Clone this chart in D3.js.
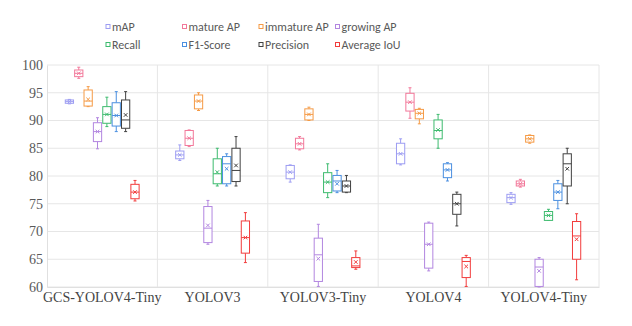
<!DOCTYPE html>
<html>
<head>
<meta charset="utf-8">
<style>
  body { margin: 0; background: #fff; }
  svg { display: block; }
</style>
</head>
<body>
<script src="https://cdn.jsdelivr.net/npm/d3@7"></script>
<script>
// categories and legend
var categories = ['GCS-YOLOV4-Tiny', 'YOLOV3', 'YOLOV3-Tiny', 'YOLOV4', 'YOLOV4-Tiny'];
var seriesNames = ['mAP', 'mature AP', 'immature AP', 'growing AP', 'Recall', 'F1-Score', 'Precision', 'Average IoU'];
var seriesColors = ['#9d9df2', '#f2789a', '#f59a45', '#b286e0', '#3dbb6e', '#4a8fe0', '#404040', '#f23c3c'];
var yTicks = [60, 65, 70, 75, 80, 85, 90, 95, 100];

// each entry: [min, q1, median, q3, max, mean] per category
var mAP        = [[93.0, 93.1, 93.4, 93.7, 93.8, 93.4], [82.8, 83.1, 83.8, 84.5, 85.6, 83.8], [78.9, 79.5, 80.7, 81.9, 82.0, 80.7], [82.0, 82.2, 84.0, 85.9, 86.7, 84.0], [74.9, 75.2, 76.1, 76.7, 77.0, 76.1]];
var matureAP   = [[97.6, 97.9, 98.5, 99.1, 99.6, 98.5], [85.3, 85.5, 86.8, 88.2, 88.3, 86.8], [84.7, 84.9, 85.8, 86.8, 87.1, 85.8], [90.4, 91.7, 93.3, 94.9, 95.9, 93.3], [78.0, 78.2, 78.6, 79.1, 79.4, 78.6]];
var immatureAP = [[92.5, 92.6, 93.5, 95.5, 96.1, 93.8], [91.8, 92.1, 93.5, 94.6, 95.0, 93.5], [90.0, 90.1, 91.1, 92.1, 92.4, 91.1], [89.4, 90.3, 91.3, 92.0, 92.2, 91.3], [85.9, 86.1, 86.7, 87.3, 87.4, 86.7]];
var growingAP  = [[84.9, 86.2, 88.0, 89.6, 90.5, 88.0], [67.7, 68.0, 70.6, 74.5, 75.6, 71.1], [60.1, 61.0, 65.8, 68.8, 71.3, 65.1], [62.9, 63.4, 67.7, 71.5, 71.7, 67.7], [60.0, 60.1, 63.6, 65.0, 65.3, 62.9]];
var recall     = [[88.9, 89.5, 91.1, 92.5, 94.2, 91.1], [78.2, 78.6, 80.4, 83.1, 85.0, 80.7], [76.1, 77.0, 78.9, 80.6, 82.2, 78.9], [85.0, 86.7, 88.2, 90.1, 91.1, 88.3], [72.0, 72.0, 72.9, 73.6, 74.0, 72.9]];
var f1Score    = [[88.0, 89.0, 90.9, 93.2, 95.2, 90.9], [78.2, 78.6, 82.2, 83.5, 84.0, 81.3], [77.0, 77.3, 79.1, 80.1, 81.0, 78.6], [79.1, 79.7, 81.1, 82.2, 82.4, 81.1], [74.1, 75.6, 77.1, 78.6, 79.2, 77.1]];
var precision  = [[88.0, 88.6, 90.1, 93.7, 95.2, 91.0], [78.2, 79.0, 81.0, 85.0, 87.1, 81.9], [77.0, 77.1, 78.2, 79.1, 80.1, 78.2], [71.0, 73.1, 75.0, 76.7, 77.1, 75.0], [75.0, 78.2, 82.2, 84.0, 85.0, 81.3]];
var avgIoU     = [[75.5, 75.9, 77.1, 78.5, 79.2, 77.1], [64.4, 66.1, 68.9, 71.9, 73.4, 68.9], [63.2, 63.5, 63.8, 65.3, 66.5, 64.5], [60.1, 61.7, 64.6, 65.3, 65.7, 63.7], [61.3, 65.0, 69.2, 71.8, 73.2, 68.6]];

var seriesData = [mAP, matureAP, immatureAP, growingAP, recall, f1Score, precision, avgIoU];

var width = 632, height = 326;
var margin = {top: 65, right: 33, bottom: 39, left: 47};

var svg = d3.select('body').append('svg')
  .attr('width', width)
  .attr('height', height);

var x = d3.scaleBand()
  .domain(categories)
  .range([margin.left, width - margin.right]);

var xInner = d3.scaleBand()
  .domain(seriesNames)
  .range([0, x.bandwidth()])
  .paddingOuter(1.95)
  .paddingInner(0.12);

var y = d3.scaleLinear()
  .domain([60, 100])
  .range([height - margin.bottom, margin.top]);

// grid
svg.append('g')
  .selectAll('line')
  .data(yTicks)
  .enter().append('line')
  .attr('x1', margin.left)
  .attr('x2', width - margin.right)
  .attr('y1', function(d){ return y(d); })
  .attr('y2', function(d){ return y(d); })
  .attr('stroke', '#e6e6e6')
  .attr('stroke-width', 1);

svg.append('g')
  .selectAll('line')
  .data(categories)
  .enter().append('line')
  .attr('x1', function(d){ return x(d) + x.bandwidth(); })
  .attr('x2', function(d){ return x(d) + x.bandwidth(); })
  .attr('y1', y(100))
  .attr('y2', y(60))
  .attr('stroke', '#e6e6e6');

// axes
var yAxis = svg.append('g')
  .attr('transform', 'translate(' + margin.left + ',0)')
  .call(d3.axisLeft(y).tickValues(yTicks).tickSize(0).tickPadding(4));
yAxis.select('.domain').attr('stroke', '#e0e0e0');
yAxis.selectAll('text')
  .attr('font-family', '"Liberation Serif", "Times New Roman", serif')
  .attr('font-size', 14)
  .attr('fill', '#595959');

var xAxis = svg.append('g')
  .attr('transform', 'translate(0,' + y(60) + ')')
  .call(d3.axisBottom(x).tickSize(0).tickPadding(5));
xAxis.select('.domain').attr('stroke', '#e0e0e0');
xAxis.selectAll('text')
  .attr('font-family', '"Liberation Serif", "Times New Roman", serif')
  .attr('font-size', 14)
  .attr('fill', '#444');

// boxes
var boxW = xInner.bandwidth();
var capW = 3;

seriesData.forEach(function(series, si){
  var color = seriesColors[si];
  var g = svg.append('g').attr('class', 'series');
  var items = g.selectAll('g')
    .data(series)
    .enter().append('g')
    .attr('transform', function(d, ci){
      return 'translate(' + (x(categories[ci]) + xInner(seriesNames[si]) + boxW / 2) + ',0)';
    });

  // whiskers
  items.append('line')
    .attr('x1', 0).attr('x2', 0)
    .attr('y1', function(d){ return y(d[4]); })
    .attr('y2', function(d){ return y(d[3]); })
    .attr('stroke', color);
  items.append('line')
    .attr('x1', 0).attr('x2', 0)
    .attr('y1', function(d){ return y(d[1]); })
    .attr('y2', function(d){ return y(d[0]); })
    .attr('stroke', color);
  items.append('line')
    .attr('x1', -capW / 2).attr('x2', capW / 2)
    .attr('y1', function(d){ return y(d[4]); })
    .attr('y2', function(d){ return y(d[4]); })
    .attr('stroke', color);
  items.append('line')
    .attr('x1', -capW / 2).attr('x2', capW / 2)
    .attr('y1', function(d){ return y(d[0]); })
    .attr('y2', function(d){ return y(d[0]); })
    .attr('stroke', color);

  // box
  items.append('rect')
    .attr('x', -boxW / 2)
    .attr('width', boxW)
    .attr('y', function(d){ return y(d[3]); })
    .attr('height', function(d){ return Math.max(1, y(d[1]) - y(d[3])); })
    .attr('fill', '#fff')
    .attr('stroke', color)
    .attr('stroke-width', 1);

  // median
  items.append('line')
    .attr('x1', -boxW / 2).attr('x2', boxW / 2)
    .attr('y1', function(d){ return y(d[2]); })
    .attr('y2', function(d){ return y(d[2]); })
    .attr('stroke', color);

  // mean marker (x)
  items.append('path')
    .attr('d', function(d){
      var m = y(d[5]), s = 1.8;
      return 'M' + (-s) + ',' + (m - s) + 'L' + s + ',' + (m + s) +
             'M' + (-s) + ',' + (m + s) + 'L' + s + ',' + (m - s);
    })
    .attr('stroke', color)
    .attr('stroke-width', 1);
});

// legend
var legend = svg.append('g')
  .selectAll('g')
  .data(seriesNames)
  .enter().append('g')
  .attr('transform', function(d, i){
    return 'translate(' + (106 + (i % 4) * 76.5) + ',' + (27 + Math.floor(i / 4) * 18) + ')';
  });

legend.append('rect')
  .attr('x', 0).attr('y', -2.5)
  .attr('width', 4).attr('height', 4)
  .attr('fill', '#fff')
  .attr('stroke', function(d, i){ return seriesColors[i]; })
  .attr('stroke-width', 1);

legend.append('text')
  .attr('x', 6)
  .attr('dy', '0.35em')
  .attr('font-family', 'Carlito, Lato, sans-serif')
  .attr('font-size', 12)
  .attr('fill', '#595959')
  .text(function(d){ return d; });
</script>
</body>
</html>
